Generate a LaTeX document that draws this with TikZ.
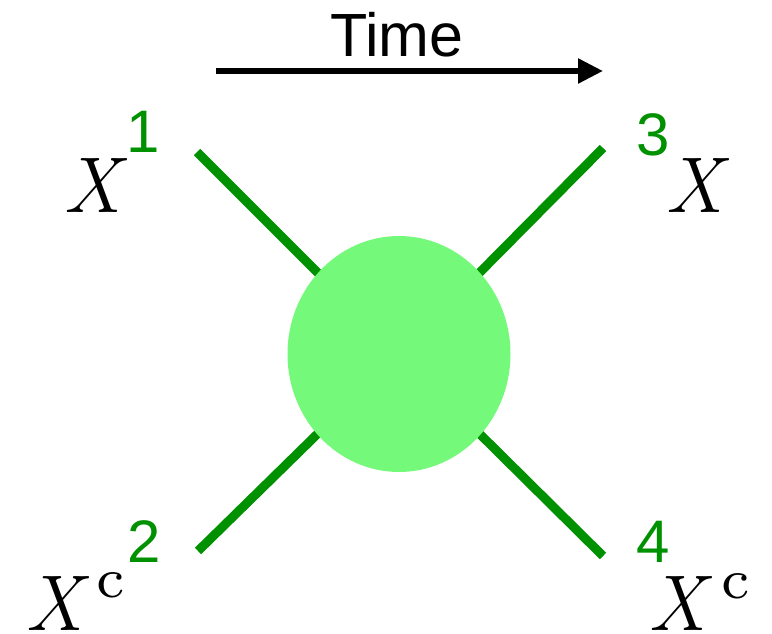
\documentclass[tikz,border=0pt]{standalone}
\usepackage{fontspec}
\setmainfont{Liberation Sans}
\newfontfamily\lmfont{Latin Modern Roman}
\newfontfamily\lmseven{lmroman7-regular.otf}
\usetikzlibrary{shapes.geometric,arrows.meta}
\definecolor{leg}{RGB}{0,145,0}
\definecolor{blobfill}{RGB}{116,249,122}
\begin{document}
\begin{tikzpicture}[x=1pt,y=-1pt,
  leg/.style={draw=leg,line width=9pt},
  blob/.style={ellipse,fill=blobfill,draw=none,minimum width=223pt,minimum height=236pt,inner sep=0pt},
  num/.style={text=leg,inner sep=0pt,anchor=base,font=\fontsize{60}{60}\selectfont},
  part/.style={inner sep=0pt,anchor=base west,text depth=0pt,font=\lmfont\itshape\fontsize{79}{79}\selectfont},
  sup/.style={inner sep=0pt,anchor=base west,text depth=0pt,font=\lmseven\fontsize{56}{56}\selectfont},
  timearrow/.style={draw=black,line width=5.5pt,-{Triangle[length=25pt,width=24pt]}}]
\useasboundingbox (0,0) rectangle (772,634);
% time arrow
\node[inner sep=0pt,anchor=base,font=\fontsize{61}{61}\selectfont] (time) at (397,57) {Time};
\coordinate (t0) at (216,71);
\coordinate (t1) at (603,71);
\draw[timearrow] (t0) -- (t1);
% legs
\coordinate (c) at (399,354);
\coordinate (p1) at (197,152);
\coordinate (p2) at (198,551);
\coordinate (p3) at (603,148);
\coordinate (p4) at (603,556);
\draw[leg] (p1) -- (c);
\draw[leg] (p2) -- (c);
\draw[leg] (p3) -- (c);
\draw[leg] (p4) -- (c);
\node[blob] (blob) at (c) {};
% labels
\node[num] (n1) at (143,153) {1};
\node[num] (n2) at (144,562) {2};
\node[num] (n3) at (653,155) {3};
\node[num] (n4) at (653,562) {4};
\node[part] (x1) at (63,212) {X};
\node[part] (x2) at (25,630) {X};
\node[sup] (c2) at (96,597) {c};
\node[part] (x3) at (665,212) {X};
\node[part] (x4) at (648,630) {X};
\node[sup] (c4) at (721,598) {c};
\end{tikzpicture}
\end{document}
